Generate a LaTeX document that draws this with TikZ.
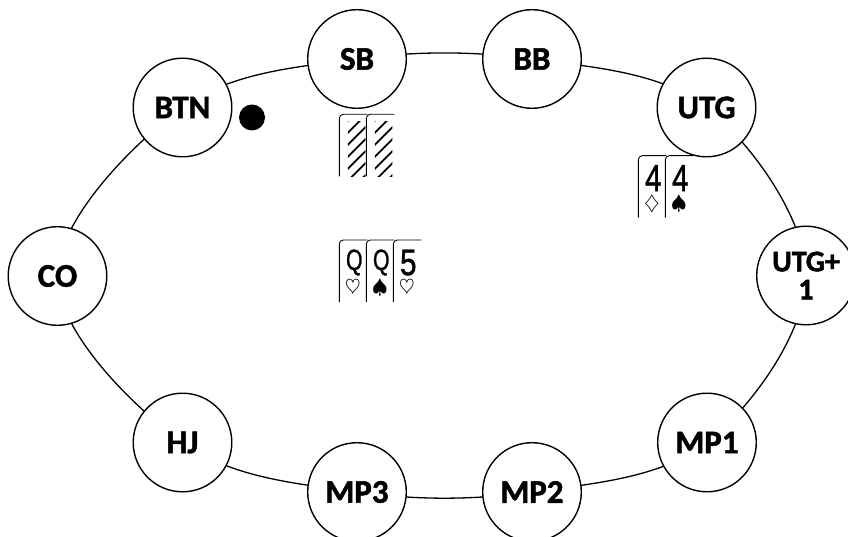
\documentclass[tikz,border=0pt]{standalone}
\usepackage{fontspec}
\setmainfont{Carlito}[BoldFeatures={FakeBold=1.5}]
\newfontfamily\rankfont{Liberation Sans}[FakeBold=1.2]
\usepackage{graphicx}
\tikzset{
  seat/.style={circle, draw, line width=1.4pt, fill=white, minimum size=98.6pt,
    inner sep=0pt, font=\fontsize{33}{36}\selectfont\bfseries},
  tableline/.style={line width=1.3pt},
  cardedge/.style={line width=0.9pt, line join=round, rounded corners=4pt},
  cardfill/.style={fill=white, rounded corners=4pt},
  hatch/.style={line width=1.7pt},
  ranktext/.style={inner sep=0pt, font=\rankfont},
  suittext/.style={inner sep=0pt},
}
% #1 x, #2 top y, #3 rank, #4 suit, #5 name
\newcommand\pkcard[5]{%
  \fill[cardfill] (#1,#2+62) -- (#1,#2) -- (#1+28,#2) -- (#1+28,#2+62) -- cycle;
  \draw[cardedge] (#1,#2+62) -- (#1,#2) -- (#1+28,#2);
  \node[ranktext] (#5r) at (#1+15,#2+22.5) {\resizebox*{16.5pt}{26pt}{#3}};
  \node[suittext] (#5s) at (#1+13.5,#2+48) {\scalebox{2}{$#4$}};
}
% #1 x, #2 top y
\newcommand\pkback[2]{%
  \fill[cardfill] (#1,#2+62) -- (#1,#2) -- (#1+28,#2) -- (#1+28,#2+62) -- cycle;
  \draw[cardedge] (#1,#2+62) -- (#1,#2) -- (#1+28,#2);
  \begin{scope}
    \clip (#1+8.5,#2+7) rectangle (#1+26,#2+62.5);
    \foreach \k in {0,...,6}{
      \draw[hatch] (#1+3,#2+12+\k*12) -- ++(30,-30);
    }
  \end{scope}
}
\begin{document}
\begin{tikzpicture}[x=1pt,y=-1pt]
\useasboundingbox (0,0) rectangle (848,537);
% seat positions
\coordinate (pSB) at (357,59);
\coordinate (pBB) at (532,59);
\coordinate (pUTG) at (706.5,107.5);
\coordinate (pUTGa) at (806,275.5);
\coordinate (pMPa) at (707,442.5);
\coordinate (pMPb) at (532,492);
\coordinate (pMPc) at (357,492);
\coordinate (pHJ) at (182.5,442.5);
\coordinate (pCO) at (57.5,276);
\coordinate (pBTN) at (182.5,107.5);
% table outline
\draw[tableline] plot[smooth cycle, tension=0.6] coordinates
  {(pSB) (pBB) (pUTG) (pUTGa) (pMPa) (pMPb) (pMPc) (pHJ) (pCO) (pBTN)};
% seats
\node[seat] (SB) at (pSB) {SB};
\node[seat] (BB) at (pBB) {BB};
\node[seat] (UTG) at (pUTG) {UTG};
\node[seat, font=\fontsize{30}{28}\selectfont\bfseries, align=center] (UTG1) at (pUTGa) {UTG+\\1};
\node[seat] (MP1) at (pMPa) {MP1};
\node[seat] (MP2) at (pMPb) {MP2};
\node[seat] (MP3) at (pMPc) {MP3};
\node[seat] (HJ) at (pHJ) {HJ};
\node[seat] (CO) at (pCO) {CO};
\node[seat] (BTN) at (pBTN) {BTN};
% dealer button
\node[circle, fill=black, minimum size=26pt, inner sep=0pt] (dealer) at (252,117.5) {};
% SB hidden cards
\pkback{339.3}{114.3}
\pkback{366.3}{114.3}
% UTG cards
\pkcard{638.3}{155.7}{4}{\diamondsuit}{utga}
\pkcard{665.3}{155.7}{4}{\spadesuit}{utgb}
% board
\pkcard{339.3}{240}{Q}{\heartsuit}{fa}
\pkcard{366.3}{240}{Q}{\spadesuit}{fb}
\pkcard{393.3}{240}{5}{\heartsuit}{fc}
\end{tikzpicture}
\end{document}
